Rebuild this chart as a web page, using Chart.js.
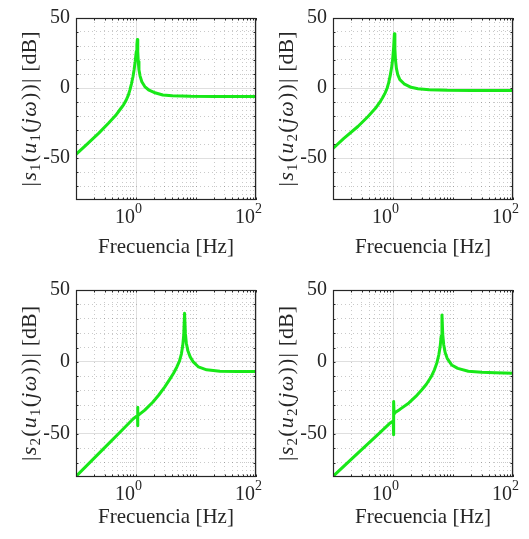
<!DOCTYPE html>
<html>
<head>
<meta charset="utf-8">
<title>Respuesta en frecuencia</title>
<script src="https://cdn.jsdelivr.net/npm/chart.js@4.4.1/dist/chart.umd.min.js"></script>
<style>
  html, body { margin: 0; padding: 0; background: #fff; }
  #wrapper { position: relative; width: 529px; height: 539px; overflow: hidden; }
  .panel { position: absolute; }
</style>
</head>
<body>
<div id="wrapper"></div>
<script>
// valores: frecuencia [Hz] y magnitud [dB]
const freqS1U1 = [0.1, 0.15, 0.24, 0.35, 0.46, 0.55, 0.62, 0.68, 0.74, 0.79, 0.84, 0.89, 0.93, 0.97, 1.01, 1.035, 1.055, 1.07, 1.09, 1.12, 1.17, 1.25, 1.4, 1.65, 2, 2.8, 4, 8, 20, 100];
const magS1U1  = [-47.4, -40.4, -32.2, -25, -19.5, -15, -12, -9, -5.5, -1.5, 3, 8, 13, 19, 26, 31, 34.7, 26, 19, 13, 8.5, 4.5, 1, -1.6, -3.2, -5, -5.5, -5.9, -6, -6];

const freqS1U2 = [0.1, 0.15, 0.26, 0.38, 0.51, 0.6, 0.67, 0.74, 0.8, 0.85, 0.9, 0.95, 0.99, 1.025, 1.055, 1.075, 1.1, 1.14, 1.2, 1.3, 1.53, 2, 2.6, 4, 8, 20, 100];
const magS1U2  = [-43.2, -36.2, -27.5, -20.5, -14.5, -10.3, -7, -3.5, 0, 4, 9, 15, 21, 29, 38.8, 28, 20, 14, 9.5, 6, 3, 0.5, -0.5, -1.2, -1.6, -1.7, -1.7];

const freqS2U1 = [0.1, 0.3, 0.6, 0.9, 1.0, 1.06, 1.065, 1.07, 1.075, 1.1, 1.4, 1.9, 2.4, 3.0, 3.6, 4.2, 4.8, 5.3, 5.7, 6.0, 6.25, 6.45, 6.65, 6.9, 7.3, 8, 9, 11, 15, 25, 50, 100];
const magS2U1  = [-79.6, -59.6, -47, -39.5, -38, -37.5, -31.5, -44.4, -37.5, -37, -33.5, -28, -23, -17.5, -12.5, -8, -3.5, 0.5, 5.5, 11, 19, 33.8, 20, 13, 8, 3.5, 0, -3.5, -5.5, -6.5, -6.7, -6.7];

const freqS2U2 = [0.1, 0.3, 0.6, 0.9, 0.98, 1.01, 1.02, 1.03, 1.04, 1.07, 1.3, 1.84, 2.4, 3.0, 3.6, 4.3, 4.9, 5.4, 5.8, 6.1, 6.35, 6.55, 6.75, 7.0, 7.4, 8, 9.5, 12, 18, 30, 50, 100];
const magS2U2  = [-79.6, -61, -49.3, -42.4, -41.4, -41, -50.7, -27.5, -35.6, -35.4, -33, -28.5, -24, -19.5, -15.5, -10.5, -5.5, -0.5, 5, 10.5, 18, 32.6, 19, 12, 6.5, 2.5, -2.1, -4.5, -6.5, -7.2, -7.6, -7.9];

const xMajorTicks = [1, 100];
const xTickExp = ['0', '2'];
const xMinorTicks = [0.2, 0.3, 0.4, 0.5, 0.6, 0.7, 0.8, 0.9, 2, 3, 4, 5, 6, 7, 8, 9, 10, 20, 30, 40, 50, 60, 70, 80, 90];
const yMajorTicks = [-50, 0, 50];
const yMinorTicks = [-70, -60, -40, -30, -20, -10, 10, 20, 30, 40];
const sIdx = ['1', '1', '2', '2'];
const uIdx = ['1', '2', '1', '2'];
const xTitle = 'Frecuencia [Hz]';

const SERIF = '"Liberation Serif", "DejaVu Serif", serif';
const TEXT = '#262626';
const GREEN = 'rgb(24, 232, 24)';
const MAJOR_GRID = 'rgba(38, 38, 38, 0.15)';
const MINOR_GRID = 'rgba(38, 38, 38, 0.25)';
const PANEL_W = 264;
const AREA_LEFT = 76;
const AREA_RIGHT = 256;
const Y_TITLE_LEN = 155;

const panels = [
    { left: 0,   top: 0,   h: 270, areaTop: 15, areaBottom: 200, titleY: 247, freq: freqS1U1, mag: magS1U1 },
    { left: 257, top: 0,   h: 270, areaTop: 15, areaBottom: 200, titleY: 247, freq: freqS1U2, mag: magS1U2 },
    { left: 0,   top: 270, h: 269, areaTop: 20, areaBottom: 207, titleY: 247, freq: freqS2U1, mag: magS2U1 },
    { left: 257, top: 270, h: 269, areaTop: 20, areaBottom: 207, titleY: 247, freq: freqS2U2, mag: magS2U2 }
];

function drawYTitle(ctx, cx, cy, s, u) {
    const parts = [
        ['|', 'n'], ['s', 'i'], [s, 'sub'], ['(', 'n'], ['u', 'i'], [u, 'sub'],
        ['(', 'n'], ['j', 'i'], ['ω', 'i'], [')', 'n'], [')', 'n'], ['|', 'n'], [' [dB]', 'n']
    ];
    const fontFor = f => f === 'i' ? `italic 22px ${SERIF}` : f === 'sub' ? `15px ${SERIF}` : `22px ${SERIF}`;
    let total = 0;
    parts.forEach(([t, f]) => { ctx.font = fontFor(f); total += ctx.measureText(t).width; });
    // reparte el espacio que falta entre los simbolos (la fuente LaTeX es mas ancha)
    const gap = Math.max(0, (Y_TITLE_LEN - total) / (parts.length - 1));
    ctx.save();
    ctx.translate(cx, cy);
    ctx.rotate(-Math.PI / 2);
    ctx.fillStyle = TEXT;
    ctx.textAlign = 'left';
    ctx.textBaseline = 'alphabetic';
    let x = -Y_TITLE_LEN / 2;
    parts.forEach(([t, f]) => {
        ctx.font = fontFor(f);
        ctx.fillText(t, x, f === 'sub' ? 11 : 7);
        x += ctx.measureText(t).width + gap;
    });
    ctx.restore();
}

// caja, marcas interiores, etiquetas 10^n y titulo del eje y
const decor = {
    id: 'decor',
    afterDraw(chart) {
        const { ctx, chartArea: a, scales } = chart;
        const k = chart.options.plugins.decor.index;
        ctx.save();
        ctx.strokeStyle = TEXT;
        ctx.lineWidth = 1;
        ctx.beginPath();
        xMajorTicks.concat(xMinorTicks).forEach(v => {
            const px = Math.round(scales.x.getPixelForValue(v)) + 0.5;
            ctx.moveTo(px, a.bottom); ctx.lineTo(px, a.bottom - 2.5);
            ctx.moveTo(px, a.top); ctx.lineTo(px, a.top + 2.5);
        });
        yMajorTicks.concat(yMinorTicks).forEach(v => {
            const py = Math.round(scales.y.getPixelForValue(v)) + 0.5;
            ctx.moveTo(a.left, py); ctx.lineTo(a.left + 2.5, py);
            ctx.moveTo(a.right, py); ctx.lineTo(a.right - 2.5, py);
        });
        ctx.stroke();
        ctx.lineWidth = 1.2;
        ctx.strokeRect(Math.round(a.left) + 0.5, Math.round(a.top) + 0.5, Math.round(a.width) - 1, Math.round(a.height) - 1);

        ctx.fillStyle = TEXT;
        ctx.textBaseline = 'alphabetic';
        xMajorTicks.forEach((v, i) => {
            const px = scales.x.getPixelForValue(v);
            ctx.font = `20px ${SERIF}`;
            ctx.textAlign = 'right';
            ctx.fillText('10', px - 1, a.bottom + 23);
            ctx.font = `14px ${SERIF}`;
            ctx.textAlign = 'left';
            ctx.fillText(xTickExp[i], px - 1, a.bottom + 13);
        });
        ctx.restore();

        drawYTitle(ctx, a.left - 47, (a.top + a.bottom) / 2, sIdx[k], uIdx[k]);
    }
};

const wrapper = document.getElementById('wrapper');

function createChart(p, k) {
    const div = document.createElement('div');
    div.className = 'panel';
    div.style.left = p.left + 'px';
    div.style.top = p.top + 'px';
    div.style.width = PANEL_W + 'px';
    div.style.height = p.h + 'px';
    const canvas = document.createElement('canvas');
    div.appendChild(canvas);
    wrapper.appendChild(div);

    const titleFont = 21;
    return new Chart(canvas.getContext('2d'), {
        type: 'line',
        data: {
            datasets: [{
                data: p.freq.map((f, i) => ({ x: f, y: p.mag[i] })),
                borderColor: GREEN,
                borderWidth: 3,
                borderJoinStyle: 'round',
                pointRadius: 0,
                tension: 0,
                fill: false,
                xAxisID: 'x',
                yAxisID: 'y'
            }]
        },
        options: {
            responsive: true,
            maintainAspectRatio: false,
            animation: false,
            events: [],
            layout: { padding: { top: p.areaTop, right: PANEL_W - AREA_RIGHT, left: 0, bottom: 0 } },
            plugins: {
                legend: { display: false },
                tooltip: { enabled: false },
                decor: { index: k }
            },
            scales: {
                x: {
                    type: 'logarithmic', min: 0.1, max: 100, position: 'bottom',
                    afterBuildTicks: s => { s.ticks = xMajorTicks.map(v => ({ value: v })); },
                    afterFit: s => { s.height = p.h - p.areaBottom; },
                    ticks: { display: false },
                    grid: { color: MAJOR_GRID, lineWidth: 1, drawTicks: false },
                    border: { display: false },
                    title: {
                        display: true, text: xTitle, color: TEXT,
                        font: { family: SERIF, size: titleFont },
                        padding: { top: 0, bottom: p.h - p.titleY - titleFont * 0.6 }
                    }
                },
                xMinor: {
                    type: 'logarithmic', min: 0.1, max: 100, position: 'bottom',
                    afterBuildTicks: s => { s.ticks = xMinorTicks.map(v => ({ value: v })); },
                    afterFit: s => { s.height = 0; },
                    ticks: { display: false },
                    grid: { color: MINOR_GRID, lineWidth: 1, drawTicks: false },
                    border: { display: false, dash: [1, 3] }
                },
                y: {
                    type: 'linear', min: -80, max: 50, position: 'left',
                    afterBuildTicks: s => { s.ticks = yMajorTicks.map(v => ({ value: v })); },
                    afterFit: s => { s.width = AREA_LEFT; },
                    ticks: { color: TEXT, font: { family: SERIF, size: 20 }, padding: 6, callback: v => String(v) },
                    grid: { color: MAJOR_GRID, lineWidth: 1, drawTicks: false },
                    border: { display: false }
                },
                yMinor: {
                    type: 'linear', min: -80, max: 50, position: 'left',
                    afterBuildTicks: s => { s.ticks = yMinorTicks.map(v => ({ value: v })); },
                    afterFit: s => { s.width = 0; },
                    ticks: { display: false },
                    grid: { color: MINOR_GRID, lineWidth: 1, drawTicks: false },
                    border: { display: false, dash: [1, 3] }
                }
            }
        },
        plugins: [decor]
    });
}

panels.forEach(createChart);
</script>
</body>
</html>
